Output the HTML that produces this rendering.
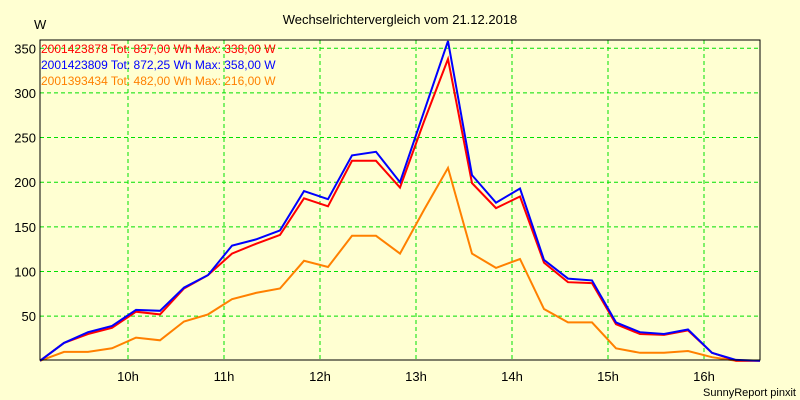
<!DOCTYPE html>
<html><head><meta charset="utf-8"><style>
html,body{margin:0;padding:0;background:#ffffd2;}
svg{display:block;font-family:"Liberation Sans",sans-serif;}
</style></head><body>
<svg id="chart" width="800" height="400" viewBox="0 0 800 400" xmlns="http://www.w3.org/2000/svg">
<rect x="0" y="0" width="800" height="400" fill="#ffffd2"/>
<text x="400" y="24" font-size="13" text-anchor="middle">Wechselrichtervergleich vom 21.12.2018</text>
<text x="34" y="29" font-size="13">W</text>
<text x="796" y="396" font-size="11" text-anchor="end">SunnyReport pinxit</text>
<g id="grid"></g>
<g id="series"></g>
<rect x="40" y="40" width="720" height="320" fill="none" stroke="#000" stroke-width="1"/>
<g id="legend"></g>
</svg>
<script>
const startHour = 9 + 5/60;
const stepHours = 0.25;
const yTicks = [50,100,150,200,250,300,350];
const xTickHours = [10,11,12,13,14,15,16];
const xTickLabels = ["10h","11h","12h","13h","14h","15h","16h"];
const seriesNames = ["2001423878","2001423809","2001393434"];
const legendTexts = ["2001423878 Tot: 837,00 Wh Max: 338,00 W","2001423809 Tot: 872,25 Wh Max: 358,00 W","2001393434 Tot: 482,00 Wh Max: 216,00 W"];
const redValues = [0,20,30,37,55,52,81,96,120,131,141,182,173,224,224,194,268,338,199,171,184,110,88,87,41,30,29,34,9,0,0];
const blueValues = [0,20,32,39,57,56,82,96,129,136,146,190,181,230,234,200,279,358,208,177,193,113,92,90,43,32,30,35,9,1,0];
const orangeValues = [0,10,10,14,26,23,44,52,69,76,81,112,105,140,140,120,169,216,120,104,114,58,43,43,14,9,9,11,4,0,0];
const colors = ["#ff0000","#0000ff","#ff8000"];
const NS="http://www.w3.org/2000/svg";
const X0=40,X1=760,Y0=360.8,PXW=0.893;
function xScale(h){return X0+(h-startHour)*96;}
function yScale(v){return Y0-v*PXW;}
function mk(tag,attrs,parent){const e=document.createElementNS(NS,tag);for(const k in attrs)e.setAttribute(k,attrs[k]);parent.appendChild(e);return e;}
const svg=document.getElementById('chart');
const grid=document.getElementById('grid');
yTicks.forEach(v=>{
  const y=yScale(v);
  const l=mk('line',{x1:X0,x2:X1,y1:y,y2:y,stroke:'#00e000','stroke-width':1,'stroke-dasharray':'4,3'},grid);
  
  
  const t=mk('text',{x:36,y:y+5,'font-size':13,'text-anchor':'end'},svg);
  t.textContent=v;
  
  
});
xTickHours.forEach((h,i)=>{
  const x=xScale(h);
  const l=mk('line',{x1:x,x2:x,y1:40,y2:360,stroke:'#00e000','stroke-width':1,'stroke-dasharray':'4,3'},grid);
  
  
  const t=mk('text',{x:x,y:381,'font-size':13,'text-anchor':'middle'},svg);
  t.textContent=xTickLabels[i];
  
  
});
const ser=document.getElementById('series');
[orangeValues,redValues,blueValues].forEach((vals,j)=>{
  const ci=[2,0,1][j];
  const pts=vals.map((v,i)=>xScale(startHour+i*stepHours).toFixed(1)+','+yScale(v).toFixed(1)).join(' ');
  const p=mk('polyline',{points:pts,fill:'none',stroke:colors[ci],'stroke-width':2,'stroke-linejoin':'miter'},ser);
  
  
});
const leg=document.getElementById('legend');
legendTexts.forEach((s,i)=>{
  const t=mk('text',{x:41,y:53+i*16,'font-size':12,fill:colors[i]},leg);
  t.textContent=s;
  
  
});
</script>
</body></html>
